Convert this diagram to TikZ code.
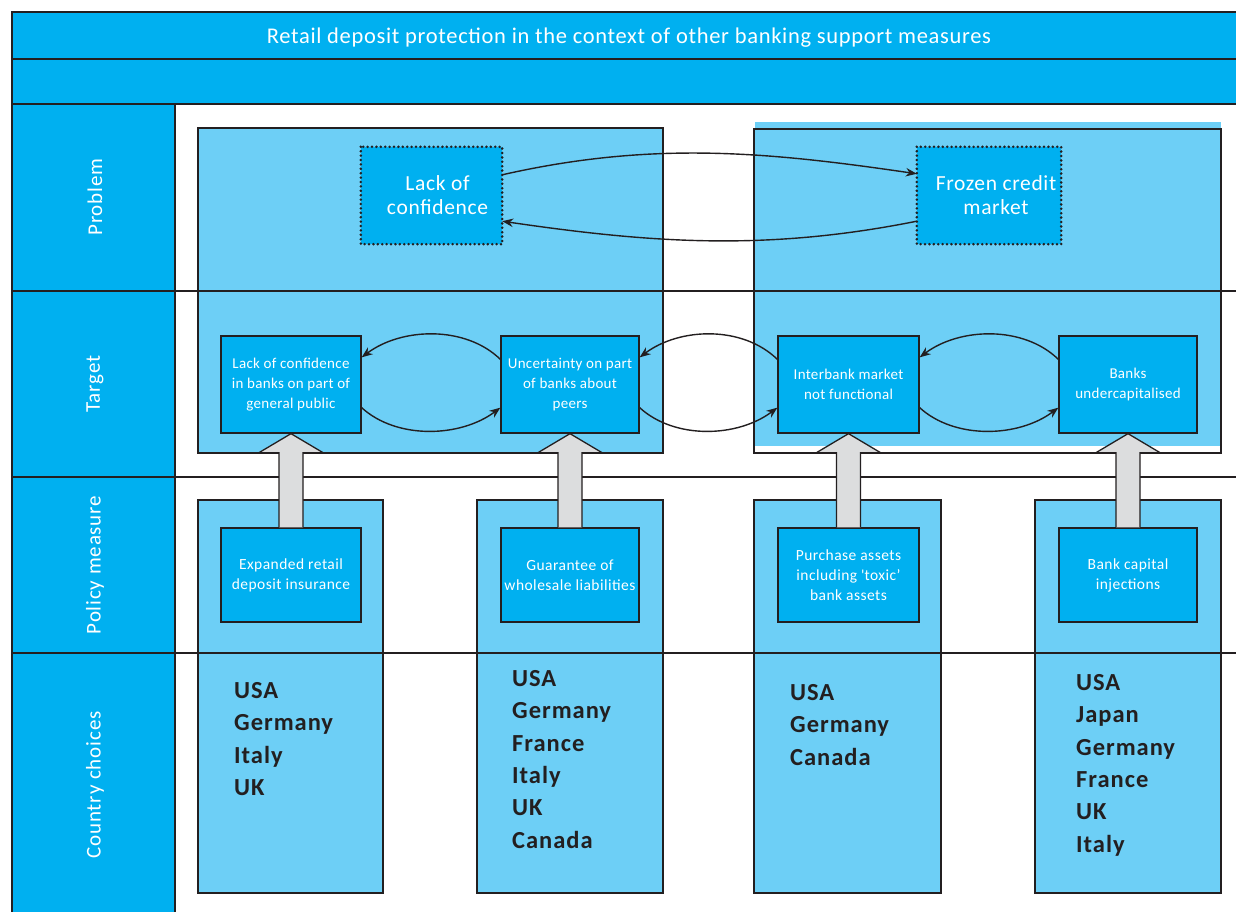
\documentclass[tikz,border=0pt]{standalone}
\usepackage{fontspec}
\setmainfont{Carlito}
\usetikzlibrary{calc,arrows.meta}
\definecolor{deepblue}{HTML}{00B0F0}
\definecolor{paleblue}{HTML}{6DCFF6}
\definecolor{ink}{HTML}{231F20}
\definecolor{shaftgray}{HTML}{DCDDDE}
\newcommand{\spaced}[1]{\addfontfeatures{LetterSpace=#1}}
\begin{document}
\begin{tikzpicture}[x=1pt,y=-1pt,
  rule/.style={draw=ink,line width=1.3pt},
  panel/.style={fill=paleblue,draw=ink,line width=1.3pt},
  rowlabel/.style={text=white,rotate=90,font=\fontsize{21}{24}\selectfont\spaced{4}},
  probbox/.style={fill=deepblue,text=white,font=\fontsize{21.5}{24}\selectfont\spaced{3},
    align=center,minimum height=97pt,inner sep=0pt},
  dotrim/.style={draw=ink,line width=2.8pt,dash pattern=on 0pt off 4.4pt,line cap=round},
  tgtbox/.style={fill=deepblue,draw=ink,line width=1.3pt,text=white,
    font=\fontsize{15}{20}\selectfont\spaced{2},align=center,minimum height=97pt,inner sep=0pt},
  polbox/.style={tgtbox,minimum height=94pt,font=\fontsize{15.5}{20}\selectfont\spaced{3}},
  countries/.style={anchor=north west,inner sep=0pt,align=left,text=ink,
    font=\fontsize{24.5}{32.4}\selectfont\bfseries\spaced{4}},
  loop/.style={draw=ink,line width=1.4pt,-{Stealth[length=11pt,width=8.5pt]}},
  lift/.style={fill=shaftgray,draw=ink,line width=1.3pt,line join=miter}]
\useasboundingbox (0,0) rectangle (1236,912);
\fill[white] (0,0) rectangle (1236,912);

% header bands and row-label column
\fill[deepblue] (12,12) rectangle (1240,104);
\fill[deepblue] (12,104) rectangle (175,916);
\draw[rule] (1240,12) -- (12,12) -- (12,916);
\draw[rule] (12,59) -- (1240,59);
\draw[rule] (12,104) -- (1240,104);
\draw[rule] (175,104) -- (175,916);
\node[text=white,font=\fontsize{22.5}{24}\selectfont\spaced{3}] (title) at (629,38)
  {Retail deposit protection in the context of other banking support measures};

% pale panels
\draw[panel] (198,128) rectangle (663,453);
\fill[paleblue] (755,122) rectangle (1221,446);
\draw[rule] (754,129) rectangle (1221,453);
\draw[panel] (198,500) rectangle (383,893);
\draw[panel] (477,500) rectangle (663,893);
\draw[panel] (754,500) rectangle (941,893);
\draw[panel] (1035,500) rectangle (1221,893);

% row separators
\draw[rule] (12,291) -- (1240,291);
\draw[rule] (12,477) -- (1240,477);
\draw[rule] (12,653) -- (1240,653);

% row labels
\node[rowlabel] (lprob) at (95,197) {Problem};
\node[rowlabel] (ltgt) at (95,384) {Target};
\node[rowlabel] (lpol) at (95,565) {Policy measure};
\node[rowlabel] (lcty) at (95,785) {Country choices};

% problems, framed by a dotted rim
\node[probbox,minimum width=141pt] (p1) at (431.5,195.5) {\hspace*{12pt}Lack of\\\hspace*{12pt}confidence};
\node[probbox,minimum width=144pt] (p2) at (989,195.5) {\hspace*{14pt}Frozen credit\\\hspace*{14pt}market};
\draw[dotrim] (p1.north west) rectangle (p1.south east);
\draw[dotrim] (p2.north west) rectangle (p2.south east);

% targets
\node[tgtbox,minimum width=140pt] (t1) at (291,384.5) {Lack of confidence\\in banks on part of\\general public};
\node[tgtbox,minimum width=138pt] (t2) at (570,384.5) {Uncertainty on part\\of banks about\\peers};
\node[tgtbox,minimum width=141pt] (t3) at (848.5,384.5) {Interbank market\\not functional};
\node[tgtbox,minimum width=138pt] (t4) at (1128,384.5) {Banks\\undercapitalised};

% policy measures
\node[polbox,minimum width=140pt] (m1) at (291,575) {Expanded retail\\deposit insurance};
\node[polbox,minimum width=138pt] (m2) at (570,575) {Guarantee of\\wholesale liabilities};
\node[polbox,minimum width=141pt] (m3) at (848.5,575) {Purchase assets\\including \textquotesingle toxic’\\bank assets};
\node[polbox,minimum width=138pt] (m4) at (1128,575) {Bank capital\\injections};

% country choices
\node[countries] (c1) at (234,682) {USA\\Germany\\Italy\\UK};
\node[countries] (c2) at (512,670) {USA\\Germany\\France\\Italy\\UK\\Canada};
\node[countries] (c3) at (790,684) {USA\\Germany\\Canada};
\node[countries] (c4) at (1076,674) {USA\\Japan\\Germany\\France\\UK\\Italy};

% problem feedback
\draw[loop] ($(p1.north east)+(0,28)$) .. controls +(150,-34) and +(-150,-22) .. ($(p2.north west)+(0,27)$);
\draw[loop] ($(p2.south west)+(0,-23)$) .. controls +(-150,30) and +(150,22) .. ($(p1.south east)+(0,-23)$);

% target feedback loops
\foreach \l/\r in {t1/t2,t2/t3,t3/t4}{
  \draw[loop] ($(\r.north west)+(0,24)$) .. controls +(-35,-34) and +(40,-30) .. ($(\l.north east)+(0,22)$);
  \draw[loop] ($(\l.south east)+(0,-26)$) .. controls +(35,32) and +(-40,30) .. ($(\r.south west)+(0,-26)$);
}

% policy-to-target block arrows
\foreach \p/\t in {m1/t1,m2/t2,m3/t3,m4/t4}{
  \draw[lift] ($(\p.north)+(-12,0)$) -- ($(\t.south)+(-12,19)$) -- ($(\t.south)+(-32,19)$)
    -- (\t.south) -- ($(\t.south)+(32,19)$) -- ($(\t.south)+(12,19)$) -- ($(\p.north)+(12,0)$);
}
\end{tikzpicture}
\end{document}
